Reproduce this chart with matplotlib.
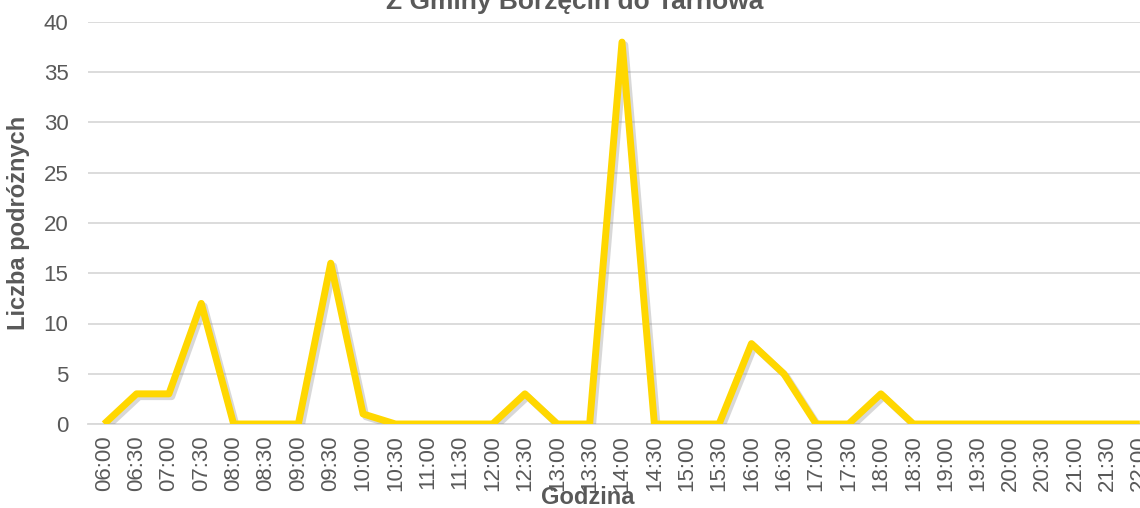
import matplotlib
matplotlib.use("Agg")
import matplotlib.pyplot as plt
import matplotlib.patheffects as pe

hours = ["06:00", "06:30", "07:00", "07:30", "08:00", "08:30", "09:00", "09:30",
         "10:00", "10:30", "11:00", "11:30", "12:00", "12:30", "13:00", "13:30",
         "14:00", "14:30", "15:00", "15:30", "16:00", "16:30", "17:00", "17:30",
         "18:00", "18:30", "19:00", "19:30", "20:00", "20:30", "21:00", "21:30", "22:00"]
passengers = [0, 3, 3, 12, 0, 0, 0, 16, 1, 0, 0, 0, 0, 3, 0, 0,
              38, 0, 0, 0, 8, 5, 0, 0, 3, 0, 0, 0, 0, 0, 0, 0, 0]
yticks = [0, 5, 10, 15, 20, 25, 30, 35, 40]

plt.rcParams["font.family"] = ["Liberation Sans Narrow", "Liberation Sans", "DejaVu Sans"]
grey = "#595959"

fig = plt.figure(figsize=(11.4, 5.08), dpi=100)
# plot area runs past the right edge, like the cropped original
ax = fig.add_axes([88/1140, 1 - 424/508, 1068/1140, 402/508])

x = list(range(len(hours)))
ax.plot(x, passengers, color="#FFD700", lw=5, solid_joinstyle="round", solid_capstyle="butt",
        path_effects=[pe.SimpleLineShadow(offset=(2, -2), shadow_color="#7f7f7f", alpha=0.3),
                      pe.Normal()], zorder=3)

ax.set_xlim(-0.5, len(hours) - 0.5)
ax.set_ylim(0, 40)
ax.set_yticks(yticks)
ax.set_xticks(x)
ax.set_xticklabels(hours, rotation=90)
ax.tick_params(axis="both", length=0, labelsize=16, labelcolor=grey, pad=8)
ax.tick_params(axis="y", pad=14)
ax.grid(axis="y", color="#d9d9d9", lw=1.3)
ax.set_axisbelow(True)
for s in ["top", "right", "left"]:
    ax.spines[s].set_visible(False)
ax.spines["bottom"].set_color("#d9d9d9")
ax.spines["bottom"].set_linewidth(1.3)

ax.set_ylabel("Liczba podróżnych", fontsize=17, fontweight="bold", color=grey, labelpad=10)
fig.text(588/1140, 1 - 497/508, "Godzina", fontsize=17, fontweight="bold", color=grey,
         ha="center", va="center")
fig.text(575/1140, 1 - 2/508, "Z Gminy Borzęcin do Tarnowa", fontsize=19, fontweight="bold",
         color=grey, ha="center", va="center")

fig.savefig("out.png", dpi=100)
